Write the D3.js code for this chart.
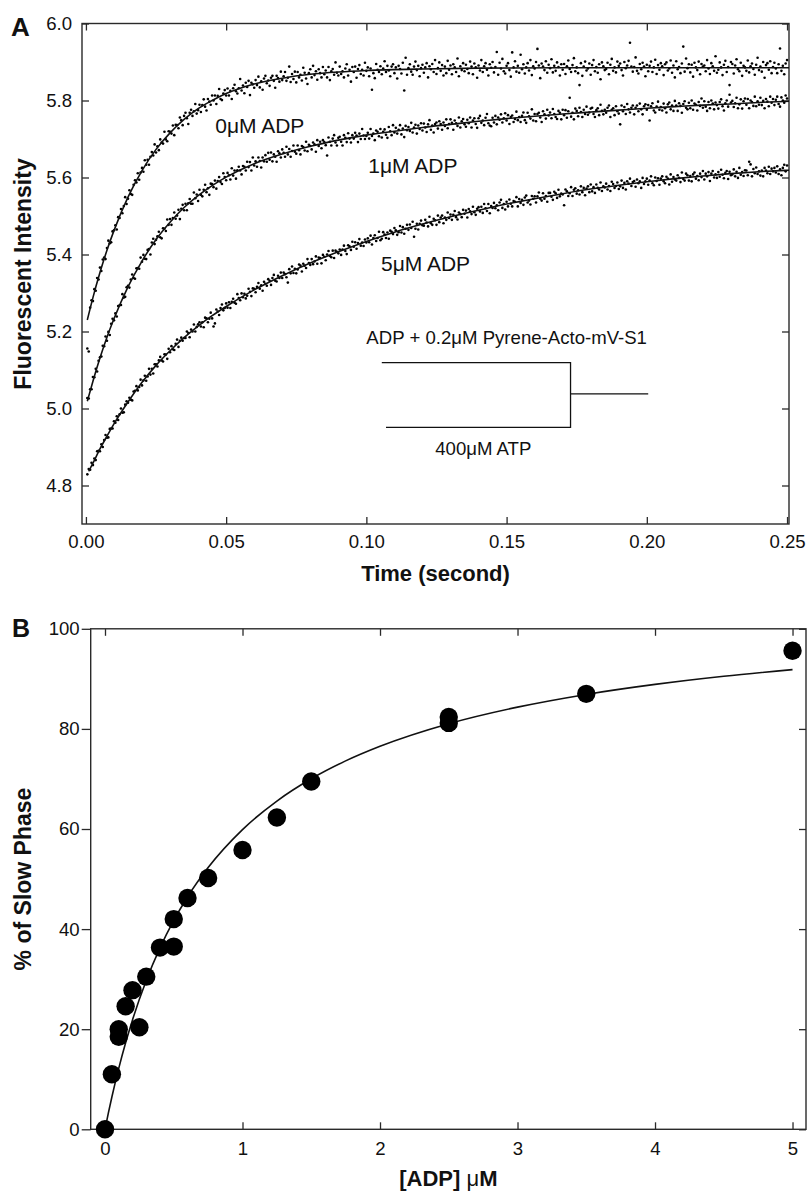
<!DOCTYPE html>
<html>
<head>
<meta charset="utf-8">
<script src="https://cdn.jsdelivr.net/npm/d3@7"></script>
<style>
  html, body { margin: 0; padding: 0; background: #fff; }
  svg { display: block; font-family: "Liberation Sans", Arial, Helvetica, sans-serif; }
  svg text { font-family: "Liberation Sans", Arial, Helvetica, sans-serif; }
</style>
</head>
<body>
<svg id="fig" width="811" height="1193"></svg>
<script>
// ---------------- Panel A: stopped-flow fluorescence traces ----------------
const timeStep = 0.0005;           // seconds between recorded samples
const timeTicks = [0, 0.05, 0.10, 0.15, 0.20, 0.25];
const intensityTicks = [4.8, 5.0, 5.2, 5.4, 5.6, 5.8, 6.0];

// recorded intensities, 0 uM ADP
const trace0 = [
5.156,5.148,5.262,5.281,5.279,5.310,5.306,5.339,5.335,5.366,
5.357,5.387,5.392,5.388,5.417,5.436,5.429,5.432,5.460,5.463,
5.476,5.465,5.497,5.495,5.518,5.507,5.526,5.549,5.531,5.545,
5.567,5.557,5.555,5.581,5.593,5.587,5.611,5.594,5.613,5.625,
5.615,5.645,5.633,5.646,5.633,5.654,5.666,5.657,5.686,5.665,
5.681,5.671,5.699,5.691,5.688,5.719,5.699,5.694,5.720,5.719,
5.714,5.735,5.710,5.737,5.736,5.728,5.756,5.749,5.736,5.760,
5.768,5.754,5.739,5.768,5.776,5.760,5.772,5.791,5.766,5.775,
5.789,5.770,5.788,5.803,5.784,5.774,5.804,5.797,5.789,5.813,
5.800,5.813,5.791,5.812,5.830,5.804,5.801,5.818,5.827,5.813,
5.831,5.813,5.825,5.804,5.832,5.841,5.824,5.818,5.832,5.856,
5.826,5.839,5.819,5.846,5.835,5.851,5.814,5.846,5.842,5.833,
5.853,5.840,5.862,5.834,5.850,5.828,5.857,5.864,5.845,5.852,
5.838,5.859,5.864,5.851,5.833,5.864,5.858,5.849,5.875,5.853,
5.863,5.874,5.851,5.859,5.888,5.848,5.869,5.856,5.875,5.847,
5.874,5.860,5.867,5.852,5.885,5.872,5.857,5.843,5.871,5.881,
5.860,5.890,5.866,5.876,5.854,5.881,5.871,5.860,5.887,5.868,
5.878,5.860,5.887,5.853,5.876,5.882,5.867,5.899,5.872,5.865,
5.888,5.869,5.876,5.860,5.883,5.894,5.865,5.880,5.849,5.887,
5.874,5.888,5.859,5.882,5.892,5.869,5.880,5.865,5.898,5.877,
5.886,5.863,5.883,5.828,5.871,5.858,5.895,5.880,5.874,5.889,
5.868,5.883,5.902,5.874,5.890,5.878,5.863,5.888,5.894,5.871,
5.886,5.857,5.890,5.882,5.870,5.898,5.826,5.911,5.867,5.884,
5.894,5.875,5.867,5.888,5.901,5.879,5.890,5.863,5.884,5.893,
5.872,5.886,5.897,5.860,5.889,5.881,5.895,5.874,5.905,5.869,
5.884,5.899,5.877,5.892,5.865,5.888,5.871,5.903,5.880,5.891,
5.868,5.894,5.886,5.874,5.909,5.863,5.889,5.879,5.897,5.876,
5.893,5.882,5.871,5.901,5.888,5.868,5.896,5.886,5.859,5.891,
5.878,5.905,5.874,5.889,5.897,5.880,5.865,5.894,5.885,5.900,
5.873,5.887,5.926,5.867,5.898,5.883,5.908,5.876,5.870,5.890,
5.897,5.879,5.862,5.925,5.886,5.902,5.875,5.890,5.872,5.919,
5.881,5.894,5.870,5.886,5.897,5.878,5.905,5.866,5.889,5.883,
5.900,5.934,5.891,5.858,5.896,5.888,5.879,5.902,5.872,5.893,
5.884,5.907,5.873,5.890,5.877,5.899,5.887,5.865,5.894,5.880,
5.895,5.869,5.889,5.904,5.882,5.874,5.892,5.910,5.876,5.886,
5.871,5.840,5.897,5.864,5.888,5.901,5.878,5.883,5.896,5.867,
5.892,5.905,5.876,5.887,5.872,5.894,5.855,5.899,5.889,5.879,
5.882,5.898,5.868,5.893,5.908,5.877,5.886,5.873,5.901,5.890,
5.896,5.879,5.865,5.900,5.884,5.891,5.903,5.950,5.888,5.875,
5.887,5.912,5.877,5.870,5.895,5.881,5.898,5.888,5.863,5.893,
5.876,5.890,5.901,5.874,5.886,5.906,5.869,5.892,5.880,5.897,
5.889,5.866,5.894,5.899,5.878,5.883,5.904,5.872,5.891,5.860,
5.902,5.881,5.887,5.871,5.896,5.940,5.875,5.909,5.884,5.894,
5.873,5.893,5.862,5.898,5.886,5.879,5.901,5.868,5.895,5.888,
5.891,5.876,5.905,5.883,5.869,5.897,5.889,5.877,5.915,5.872,
5.880,5.899,5.886,5.866,5.893,5.903,5.874,5.887,5.840,5.900,
5.895,5.870,5.891,5.907,5.881,5.876,5.898,5.864,5.890,5.886,
5.877,5.904,5.873,5.889,5.896,5.882,5.867,5.893,5.911,5.879,
5.888,5.875,5.900,5.859,5.892,5.897,5.880,5.902,5.871,5.887,
5.898,5.883,5.871,5.894,5.935,5.877,5.890,5.868,5.896,5.905
];

// recorded intensities, 1 uM ADP
const trace1 = [
5.027,5.026,5.050,5.050,5.082,5.081,5.103,5.096,5.124,5.133,
5.135,5.163,5.162,5.187,5.176,5.199,5.191,5.220,5.233,5.229,
5.247,5.239,5.266,5.268,5.269,5.297,5.288,5.290,5.315,5.319,
5.314,5.335,5.348,5.339,5.337,5.364,5.365,5.363,5.392,5.381,
5.399,5.389,5.388,5.412,5.414,5.400,5.431,5.441,5.427,5.438,
5.447,5.459,5.445,5.442,5.468,5.467,5.461,5.491,5.477,5.492,
5.477,5.495,5.509,5.493,5.501,5.516,5.492,5.519,5.529,5.515,
5.532,5.515,5.533,5.544,5.532,5.532,5.561,5.546,5.556,5.539,
5.568,5.555,5.551,5.568,5.581,5.562,5.572,5.555,5.584,5.583,
5.575,5.592,5.571,5.591,5.601,5.588,5.583,5.611,5.601,5.593,
5.612,5.606,5.595,5.624,5.605,5.618,5.597,5.619,5.628,5.618,
5.608,5.630,5.628,5.618,5.641,5.627,5.640,5.618,5.652,5.631,
5.642,5.628,5.652,5.643,5.626,5.652,5.642,5.658,5.641,5.664,
5.646,5.665,5.642,5.660,5.654,5.641,5.668,5.663,5.652,5.673,
5.664,5.654,5.680,5.660,5.674,5.654,5.669,5.683,5.667,5.662,
5.683,5.671,5.660,5.682,5.679,5.670,5.693,5.668,5.685,5.682,
5.673,5.691,5.686,5.667,5.697,5.682,5.693,5.676,5.697,5.692,
5.684,5.657,5.704,5.693,5.683,5.701,5.710,5.691,5.683,5.703,
5.706,5.693,5.683,5.710,5.703,5.692,5.715,5.701,5.691,5.710,
5.701,5.716,5.709,5.692,5.714,5.700,5.726,5.709,5.700,5.708,
5.716,5.701,5.726,5.708,5.714,5.697,5.722,5.719,5.707,5.726,
5.704,5.719,5.725,5.711,5.703,5.731,5.720,5.710,5.736,5.717,
5.729,5.714,5.724,5.736,5.712,5.727,5.705,5.734,5.723,5.731,
5.721,5.742,5.717,5.730,5.737,5.714,5.735,5.726,5.741,5.722,
5.740,5.730,5.718,5.738,5.749,5.724,5.735,5.717,5.739,5.743,
5.727,5.746,5.739,5.724,5.743,5.734,5.751,5.728,5.739,5.751,
5.742,5.724,5.748,5.741,5.734,5.756,5.730,5.746,5.752,5.738,
5.732,5.750,5.741,5.756,5.730,5.748,5.754,5.739,5.729,5.754,
5.760,5.742,5.748,5.736,5.755,5.765,5.741,5.735,5.733,5.755,
5.743,5.760,5.738,5.756,5.750,5.764,5.743,5.754,5.767,5.748,
5.762,5.739,5.757,5.761,5.744,5.752,5.771,5.749,5.757,5.744,
5.760,5.769,5.749,5.742,5.768,5.759,5.753,5.777,5.748,5.765,
5.746,5.765,5.768,5.756,5.744,5.772,5.764,5.753,5.776,5.761,
5.769,5.754,5.778,5.765,5.757,5.752,5.773,5.768,5.751,5.776,
5.762,5.775,5.755,5.772,5.807,5.758,5.768,5.751,5.779,5.773,
5.759,5.781,5.770,5.757,5.776,5.765,5.784,5.763,5.769,5.779,
5.781,5.765,5.757,5.775,5.780,5.762,5.789,5.773,5.764,5.776,
5.768,5.781,5.787,5.757,5.776,5.780,5.762,5.785,5.772,5.766,
5.738,5.787,5.772,5.783,5.765,5.791,5.777,5.769,5.781,5.787,
5.764,5.781,5.787,5.772,5.792,5.777,5.764,5.785,5.790,5.776,
5.788,5.748,5.785,5.793,5.774,5.769,5.784,5.797,5.776,5.783,
5.774,5.792,5.780,5.769,5.790,5.795,5.777,5.787,5.773,5.799,
5.787,5.773,5.793,5.786,5.768,5.791,5.798,5.781,5.777,5.794,
5.780,5.800,5.776,5.792,5.789,5.774,5.796,5.786,5.805,5.781,
5.798,5.784,5.773,5.796,5.780,5.800,5.792,5.777,5.795,5.788,
5.779,5.796,5.803,5.785,5.774,5.793,5.800,5.784,5.815,5.795,
5.799,5.783,5.793,5.807,5.780,5.790,5.803,5.779,5.798,5.805,
5.789,5.804,5.780,5.800,5.796,5.786,5.810,5.785,5.798,5.789,
5.807,5.788,5.799,5.780,5.804,5.797,5.785,5.810,5.794,5.804,
5.788,5.802,5.810,5.791,5.784,5.808,5.800,5.794,5.813,5.805
];

// recorded intensities, 5 uM ADP
const trace5 = [
4.829,4.843,4.841,4.859,4.853,4.870,4.866,4.889,4.890,4.889,
4.907,4.900,4.918,4.931,4.924,4.925,4.947,4.948,4.948,4.967,
4.963,4.980,4.970,4.985,5.000,4.989,4.990,5.010,5.019,5.015,
5.028,5.023,5.021,5.044,5.046,5.058,5.047,5.056,5.075,5.060,
5.073,5.085,5.072,5.083,5.103,5.088,5.103,5.091,5.115,5.115,
5.109,5.125,5.134,5.125,5.122,5.141,5.140,5.129,5.155,5.146,
5.162,5.154,5.152,5.168,5.179,5.160,5.176,5.184,5.176,5.183,
5.183,5.200,5.196,5.185,5.205,5.200,5.218,5.200,5.212,5.219,
5.224,5.213,5.224,5.211,5.236,5.234,5.224,5.233,5.249,5.234,
5.213,5.221,5.257,5.252,5.243,5.261,5.270,5.255,5.261,5.273,
5.262,5.276,5.261,5.277,5.285,5.275,5.272,5.297,5.287,5.281,
5.299,5.289,5.298,5.286,5.293,5.311,5.303,5.292,5.312,5.311,
5.302,5.316,5.326,5.311,5.320,5.306,5.329,5.324,5.319,5.336,
5.332,5.321,5.339,5.347,5.332,5.330,5.345,5.339,5.353,5.339,
5.353,5.349,5.341,5.327,5.362,5.351,5.369,5.352,5.363,5.351,
5.361,5.374,5.371,5.356,5.376,5.371,5.365,5.388,5.378,5.373,
5.388,5.375,5.382,5.395,5.376,5.392,5.391,5.377,5.399,5.394,
5.385,5.400,5.409,5.396,5.393,5.410,5.391,5.410,5.407,5.403,
5.413,5.399,5.413,5.423,5.409,5.401,5.424,5.421,5.412,5.433,
5.420,5.432,5.415,5.430,5.440,5.423,5.431,5.422,5.439,5.431,
5.442,5.432,5.449,5.426,5.443,5.450,5.435,5.443,5.459,5.437,
5.441,5.458,5.452,5.443,5.457,5.441,5.462,5.459,5.453,5.469,
5.463,5.451,5.458,5.474,5.457,5.471,5.454,5.467,5.477,5.464,
5.478,5.469,5.485,5.446,5.467,5.480,5.465,5.480,5.488,5.476,
5.475,5.490,5.483,5.473,5.498,5.481,5.477,5.493,5.489,5.477,
5.501,5.484,5.496,5.501,5.481,5.496,5.490,5.509,5.495,5.504,
5.490,5.503,5.513,5.497,5.491,5.509,5.505,5.497,5.516,5.506,
5.514,5.496,5.518,5.512,5.505,5.524,5.510,5.503,5.519,5.523,
5.512,5.524,5.508,5.531,5.520,5.513,5.531,5.507,5.526,5.521,
5.534,5.520,5.528,5.515,5.535,5.542,5.521,5.531,5.517,5.537,
5.525,5.543,5.532,5.525,5.539,5.537,5.549,5.525,5.544,5.534,
5.542,5.529,5.548,5.553,5.535,5.540,5.530,5.552,5.545,5.551,
5.535,5.551,5.561,5.545,5.540,5.559,5.545,5.552,5.537,5.560,
5.560,5.550,5.542,5.563,5.559,5.547,5.568,5.551,5.558,5.556,
5.528,5.569,5.564,5.552,5.559,5.575,5.552,5.568,5.572,5.558,
5.567,5.556,5.577,5.562,5.573,5.554,5.571,5.577,5.562,5.582,
5.564,5.575,5.560,5.582,5.573,5.569,5.587,5.565,5.577,5.574,
5.584,5.569,5.578,5.565,5.589,5.583,5.573,5.578,5.587,5.570,
5.577,5.592,5.573,5.586,5.569,5.590,5.584,5.597,5.578,5.588,
5.591,5.576,5.595,5.585,5.590,5.573,5.599,5.583,5.590,5.597,
5.581,5.592,5.603,5.585,5.580,5.600,5.591,5.598,5.581,5.597,
5.603,5.590,5.585,5.602,5.597,5.582,5.608,5.589,5.601,5.595,
5.592,5.606,5.599,5.588,5.613,5.596,5.592,5.610,5.606,5.592,
5.604,5.590,5.608,5.613,5.597,5.604,5.593,5.610,5.601,5.617,
5.595,5.610,5.603,5.614,5.591,5.610,5.617,5.600,5.608,5.599,
5.614,5.602,5.620,5.607,5.598,5.612,5.617,5.596,5.615,5.606,
5.608,5.621,5.603,5.615,5.599,5.625,5.607,5.614,5.604,5.619,
5.618,5.606,5.641,5.634,5.603,5.622,5.611,5.626,5.609,5.616,
5.605,5.618,5.603,5.625,5.618,5.611,5.628,5.609,5.623,5.616,
5.625,5.613,5.629,5.609,5.621,5.606,5.625,5.633,5.616,5.631
];

// fitted curves: [time (s), intensity]
const fit0 = [[0.0005,5.230],[0.0025,5.288],[0.005,5.353],[0.0075,5.411],[0.01,5.462],[0.015,5.549],
  [0.02,5.618],[0.025,5.673],[0.03,5.716],[0.035,5.751],[0.04,5.779],[0.045,5.800],[0.05,5.818],
  [0.06,5.843],[0.07,5.858],[0.08,5.868],[0.09,5.874],[0.10,5.878],[0.12,5.882],[0.14,5.884],
  [0.17,5.885],[0.2507,5.885]];
const fit1 = [[0.0005,5.019],[0.0025,5.071],[0.005,5.131],[0.0075,5.185],[0.01,5.233],[0.015,5.316],
  [0.02,5.383],[0.025,5.439],[0.03,5.484],[0.035,5.522],[0.04,5.553],[0.045,5.579],[0.05,5.601],
  [0.06,5.636],[0.07,5.661],[0.08,5.681],[0.09,5.697],[0.10,5.710],[0.11,5.720],[0.12,5.730],
  [0.13,5.738],[0.14,5.746],[0.15,5.753],[0.16,5.759],[0.17,5.765],[0.18,5.770],[0.19,5.775],
  [0.20,5.780],[0.21,5.784],[0.22,5.788],[0.23,5.791],[0.24,5.795],[0.2507,5.798]];
const fit5 = [[0.001,4.837],[0.0025,4.858],[0.005,4.895],[0.0075,4.928],[0.01,4.960],[0.015,5.017],
  [0.02,5.068],[0.025,5.112],[0.03,5.150],[0.035,5.184],[0.04,5.214],[0.045,5.241],[0.05,5.265],
  [0.06,5.308],[0.07,5.345],[0.08,5.378],[0.09,5.407],[0.10,5.434],[0.11,5.458],[0.12,5.479],
  [0.13,5.498],[0.14,5.515],[0.15,5.531],[0.16,5.545],[0.17,5.558],[0.18,5.570],[0.19,5.580],
  [0.20,5.589],[0.21,5.597],[0.22,5.604],[0.23,5.610],[0.24,5.615],[0.2507,5.619]];

// trace labels: [text, time, intensity at baseline]
const traceLabels = [["0\u03bcM ADP", 0.0461, 5.716], ["1\u03bcM ADP", 0.1007, 5.611], ["5\u03bcM ADP", 0.1052, 5.358]];

// ---------------- Panel B: fraction of slow phase vs [ADP] ----------------
const adpConc   = [0, 0.05, 0.1, 0.1, 0.15, 0.2, 0.25, 0.3, 0.4, 0.5, 0.5, 0.6, 0.75, 1.0, 1.25, 1.5, 2.5, 2.5, 3.5, 5.0];
const slowPhase = [0, 11.0, 20.0, 18.5, 24.6, 27.8, 20.4, 30.5, 36.3, 36.5, 42.0, 46.2, 50.2, 55.8, 62.3, 69.5, 82.4, 81.2, 87.0, 95.6];
const fitConc   = [0, 0.025, 0.05, 0.1, 0.15, 0.2, 0.3, 0.4, 0.5, 0.6, 0.75, 1.0, 1.25, 1.5, 1.75, 2.0, 2.5, 3.0, 3.5, 4.0, 4.5, 5.0];
const fitPhase  = [0, 3.33, 6.46, 12.18, 17.28, 21.86, 29.72, 36.24, 41.73, 46.42, 52.30, 59.89, 65.59, 70.04, 73.61, 76.53, 81.04, 84.35, 86.89, 88.89, 90.51, 91.85];
const concTicks = [0, 1, 2, 3, 4, 5];
const phaseTicks = [0, 20, 40, 60, 80, 100];

// ======================= drawing =======================
const svg = d3.select("#fig");
const INK = "#111";
const FRAME = "#2a2a2a";
const FONT = '"Liberation Sans", Arial, Helvetica, sans-serif';
const tickFont = "18.6px";

function styleAxis(g) {
  g.attr("font-family", FONT);
  g.select(".domain").remove();
  g.selectAll(".tick line").attr("stroke", FRAME).attr("stroke-width", 1.3);
  g.selectAll(".tick text").attr("fill", INK).style("font-size", tickFont).style("font-family", FONT);
}

function boxedAxes(x, y, xTicks, yTicks, xFmt, yFmt, opts) {
  const [x0, x1] = x.range();
  const [y0, y1] = y.range();   // y0 bottom, y1 top
  const g = svg.append("g");
  g.append("g").attr("transform", `translate(0,${y0})`)
    .call(d3.axisBottom(x).tickValues(xTicks).tickFormat(xFmt).tickSizeInner(-7).tickSizeOuter(0).tickPadding(opts.xPad))
    .call(styleAxis);
  g.append("g").attr("transform", `translate(0,${y1})`)
    .call(d3.axisTop(x).tickValues(xTicks).tickFormat("").tickSizeInner(-7).tickSizeOuter(0))
    .call(styleAxis);
  g.append("g").attr("transform", `translate(${x0},0)`)
    .call(d3.axisLeft(y).tickValues(yTicks).tickFormat(yFmt).tickSizeInner(opts.yTick).tickSizeOuter(0).tickPadding(opts.yPad))
    .call(styleAxis);
  g.append("g").attr("transform", `translate(${x1},0)`)
    .call(d3.axisRight(y).tickValues(yTicks).tickFormat("").tickSizeInner(-7).tickSizeOuter(0))
    .call(styleAxis);
  g.append("rect").attr("x", x0).attr("y", y1).attr("width", x1 - x0).attr("height", y0 - y1)
    .attr("fill", "none").attr("stroke", FRAME).attr("stroke-width", 1.4);
  return g;
}

// ---- Panel A ----
const ax = d3.scaleLinear([-0.0014, 0.2507], [82, 789]);
const ay = d3.scaleLinear([4.70, 6.00], [524, 23.5]);

boxedAxes(ax, ay, timeTicks, intensityTicks, d3.format(".2f"), d3.format(".1f"),
  { xPad: 11, yTick: -7, yPad: 10 });

const plotA = svg.append("g");
const fitLineA = d3.line().x(d => ax(d[0])).y(d => ay(d[1])).curve(d3.curveMonotoneX);

[trace0, trace1, trace5].forEach(trace => {
  plotA.append("g").selectAll("circle")
    .data(trace.map((v, i) => ({ t: (i + 1) * timeStep, v })))
    .join("circle")
    .attr("cx", d => ax(d.t)).attr("cy", d => ay(d.v))
    .attr("r", 1.3).attr("fill", "#000");
});

[fit0, fit1, fit5].forEach(fit => {
  plotA.append("path").attr("d", fitLineA(fit))
    .attr("fill", "none").attr("stroke", INK).attr("stroke-width", 1.6);
});

plotA.selectAll("text.trace-label").data(traceLabels).join("text")
  .attr("class", "trace-label")
  .attr("x", d => ax(d[1])).attr("y", d => ay(d[2]))
  .attr("fill", INK).style("font-size", "21px")
  .text(d => d[0]);

// mixing scheme inset (time / intensity coordinates)
const scheme = svg.append("g").attr("stroke", INK).attr("stroke-width", 1.3).attr("fill", "none");
const sx = { left: 0.1055, leftLow: 0.1070, join: 0.1728, out: 0.2005 };
const sy = { top: 5.119, mid: 5.038, bottom: 4.951 };
scheme.append("path").attr("d",
  `M${ax(sx.left)},${ay(sy.top)}H${ax(sx.join)}V${ay(sy.bottom)}H${ax(sx.leftLow)}` +
  `M${ax(sx.join)},${ay(sy.mid)}H${ax(sx.out)}`);
svg.append("text").attr("x", ax(0.1)).attr("y", ay(5.168))
  .attr("fill", INK).style("font-size", "18.6px")
  .text("ADP + 0.2\u03bcM Pyrene-Acto-mV-S1");
svg.append("text").attr("x", ax(0.1417)).attr("y", ay(4.879)).attr("text-anchor", "middle")
  .attr("fill", INK).style("font-size", "18.6px")
  .text("400\u03bcM ATP");

// titles
svg.append("text").attr("transform", "translate(31,274) rotate(-90)").attr("text-anchor", "middle")
  .attr("fill", INK).style("font-size", "23px").style("font-weight", "bold")
  .text("Fluorescent Intensity");
svg.append("text").attr("x", (ax.range()[0] + ax.range()[1]) / 2).attr("y", 581).attr("text-anchor", "middle")
  .attr("fill", INK).style("font-size", "22px").style("font-weight", "bold")
  .text("Time (second)");
svg.append("text").attr("x", 11).attr("y", 36)
  .attr("fill", INK).style("font-size", "26px").style("font-weight", "bold").text("A");

// ---- Panel B ----
const bx = d3.scaleLinear([-0.104, 5.098], [90.7, 806]);
const by = d3.scaleLinear([0, 100], [1129.3, 628.8]);

boxedAxes(bx, by, concTicks, phaseTicks, d3.format("d"), d3.format("d"),
  { xPad: 12.5, yTick: 9, yPad: 2 });

const plotB = svg.append("g");
const fitLineB = d3.line().x(d => bx(d[0])).y(d => by(d[1])).curve(d3.curveMonotoneX);
plotB.append("path").attr("d", fitLineB(fitConc.map((c, i) => [c, fitPhase[i]])))
  .attr("fill", "none").attr("stroke", INK).attr("stroke-width", 1.6);
plotB.selectAll("circle").data(adpConc.map((c, i) => [c, slowPhase[i]])).join("circle")
  .attr("cx", d => bx(d[0])).attr("cy", d => by(d[1])).attr("r", 9.2).attr("fill", "#000");

svg.append("text").attr("transform", "translate(31,879) rotate(-90)").attr("text-anchor", "middle")
  .attr("fill", INK).style("font-size", "23px").style("font-weight", "bold")
  .text("% of Slow Phase");
const xt = svg.append("text").attr("x", (bx.range()[0] + bx.range()[1]) / 2).attr("y", 1186)
  .attr("text-anchor", "middle").attr("fill", INK).style("font-size", "22px").style("font-weight", "bold");
xt.append("tspan").text("[ADP] ");
xt.append("tspan").style("font-weight", "normal").text("\u03bc");
xt.append("tspan").text("M");
svg.append("text").attr("x", 12).attr("y", 637)
  .attr("fill", INK).style("font-size", "25px").style("font-weight", "bold").text("B");
</script>
</body>
</html>
